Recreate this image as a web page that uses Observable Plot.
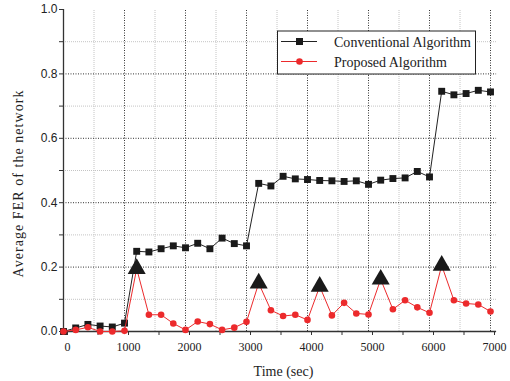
<!DOCTYPE html>
<html>
<head>
<meta charset="utf-8">
<script src="https://cdn.jsdelivr.net/npm/d3@7"></script>
<script src="https://cdn.jsdelivr.net/npm/@observablehq/plot@0.6"></script>
<style>
  html, body { margin: 0; padding: 0; background: #fff; }
  #chart svg { display: block; }
</style>
</head>
<body>
<div id="chart"></div>
<script>
// ---- data ----
const times = [0, 200, 400, 600, 800, 1000, 1200, 1400, 1600, 1800, 2000, 2200, 2400, 2600, 2800, 3000,
  3200, 3400, 3600, 3800, 4000, 4200, 4400, 4600, 4800, 5000, 5200, 5400, 5600, 5800, 6000,
  6200, 6400, 6600, 6800, 7000];
const conventional = [0, 0.011, 0.022, 0.017, 0.014, 0.026, 0.249, 0.247, 0.257, 0.266, 0.26, 0.274, 0.257, 0.29, 0.273, 0.266,
  0.46, 0.452, 0.482, 0.474, 0.472, 0.469, 0.468, 0.466, 0.468, 0.457, 0.47, 0.475, 0.477, 0.497, 0.48,
  0.746, 0.735, 0.739, 0.749, 0.744];
const proposed = [0, 0.005, 0.013, 0, 0, 0.002, 0.195, 0.052, 0.052, 0.025, 0.005, 0.031, 0.023, 0.005, 0.012, 0.030,
  0.150, 0.066, 0.048, 0.052, 0.036, 0.140, 0.050, 0.089, 0.056, 0.053, 0.162, 0.069, 0.097, 0.075, 0.058,
  0.205, 0.097, 0.087, 0.084, 0.062];
const peakTimes = [1200, 3200, 4200, 5200, 6200];
const seriesNames = ["Conventional Algorithm", "Proposed Algorithm"];
const xTicks = [0, 500, 1000, 1500, 2000, 2500, 3000, 3500, 4000, 4500, 5000, 5500, 6000, 6500, 7000];
const yTicks = [0, 0.1, 0.2, 0.3, 0.4, 0.5, 0.6, 0.7, 0.8, 0.9, 1.0];
const xLabel = "Time (sec)";
const yLabel = "Average FER of the network";

// ---- derived tables ----
const rows = times.map((t, i) => ({t, conv: conventional[i], prop: proposed[i]}));
const peaks = rows.filter(d => peakTimes.includes(d.t));
const isMajorX = d => d % 1000 === 0;
const isMajorY = d => Math.round(d * 10) % 2 === 0;
const xGridMajor = xTicks.filter(d => isMajorX(d) && d > 0);
const xGridMinor = xTicks.filter(d => !isMajorX(d));
const yGridMajor = yTicks.filter(d => isMajorY(d) && d > 0 && d < 1);
const yGridMinor = yTicks.filter(d => !isMajorY(d));
const xEnd = 7100;

const BLACK = "#1a1a1a";
const RED = "#ec2a2c";
const serif = "'Liberation Serif', 'Times New Roman', serif";
const sans = "'Liberation Sans', Arial, sans-serif";

const plot = Plot.plot({
  width: 510,
  height: 381,
  marginLeft: 63,
  marginRight: 20,
  marginTop: 9,
  marginBottom: 50,
  x: {domain: [0, 7000]},
  y: {domain: [0, 1]},
  style: {background: "white", overflow: "visible"},
  marks: [
    Plot.ruleX(xGridMinor, {y1: 0, y2: 1, stroke: "#c4c4c4", strokeDasharray: "1,1"}),
    Plot.ruleY(yGridMinor, {x1: 0, x2: xEnd, stroke: "#c4c4c4", strokeDasharray: "1,1"}),
    Plot.ruleX(xGridMajor, {y1: 0, y2: 1, stroke: "#333", strokeDasharray: "1,1.5"}),
    Plot.ruleY(yGridMajor, {x1: 0, x2: xEnd, stroke: "#333", strokeDasharray: "1,1.5"}),
    Plot.axisY({ticks: yTicks, tickSize: 4, tickPadding: 2, label: null,
      tickFormat: d => isMajorY(d) ? d.toFixed(1) : "",
      fontFamily: sans, fontSize: 12, stroke: "#333", fill: "#222"}),
    Plot.axisX({ticks: xTicks, tickSize: 4, tickPadding: 7, label: null,
      tickFormat: d => isMajorX(d) ? String(d) : "",
      fontFamily: serif, fontSize: 12, dx: 4, stroke: "#333", fill: "#222"}),
    Plot.ruleX([0], {y1: 0, y2: 1, stroke: "#333", strokeWidth: 1.3}),
    Plot.ruleY([0], {x1: 0, x2: xEnd, stroke: "#333", strokeWidth: 1.3}),
    Plot.line(rows, {x: "t", y: "conv", stroke: "#222", strokeWidth: 1}),
    Plot.dot(rows, {x: "t", y: "conv", symbol: "square", r: 3.9, fill: BLACK, stroke: "none"}),
    Plot.line(rows, {x: "t", y: "prop", stroke: RED, strokeWidth: 1}),
    Plot.dot(rows, {x: "t", y: "prop", r: 3.3, fill: RED, stroke: "none"}),
    Plot.dot(peaks, {x: "t", y: "prop", symbol: "triangle", r: 6.7, fill: BLACK, stroke: "none"})
  ]
});

const svg = d3.select(plot);

// axis titles
svg.append("text")
  .attr("x", 283.5).attr("y", 376)
  .attr("text-anchor", "middle")
  .attr("font-family", serif).attr("font-size", 14).attr("fill", "#222")
  .text(xLabel);
svg.append("text")
  .attr("transform", "translate(22.5,184) rotate(-90)")
  .attr("text-anchor", "middle")
  .attr("font-family", serif).attr("font-size", 14).attr("fill", "#222")
  .attr("textLength", 187).attr("lengthAdjust", "spacing")
  .text(yLabel);

// legend
const lg = svg.append("g").attr("text-anchor", "start");
lg.append("rect").attr("x", 277.5).attr("y", 31).attr("width", 198).attr("height", 43)
  .attr("fill", "white").attr("stroke", "#222").attr("stroke-width", 1);
const legendItems = [
  {name: seriesNames[0], color: "#222", fill: BLACK, symbol: d3.symbolSquare, size: 49, y: 41.5, tl: 137},
  {name: seriesNames[1], color: RED, fill: RED, symbol: d3.symbolCircle, size: 3.3 * 3.3 * Math.PI, y: 61.5, tl: 113}
];
legendItems.forEach(it => {
  lg.append("line").attr("x1", 281).attr("x2", 317).attr("y1", it.y).attr("y2", it.y)
    .attr("stroke", it.color).attr("stroke-width", 1);
  lg.append("path").attr("d", d3.symbol(it.symbol, it.size)())
    .attr("transform", `translate(299.5,${it.y})`).attr("fill", it.fill);
  lg.append("text").attr("x", 334).attr("y", it.y + 5.5)
    .attr("text-anchor", "start")
    .attr("font-family", serif).attr("font-size", 14).attr("fill", "#222")
    .attr("textLength", it.tl).attr("lengthAdjust", "spacing")
    .text(it.name);
});

document.getElementById("chart").appendChild(plot);
</script>
</body>
</html>
